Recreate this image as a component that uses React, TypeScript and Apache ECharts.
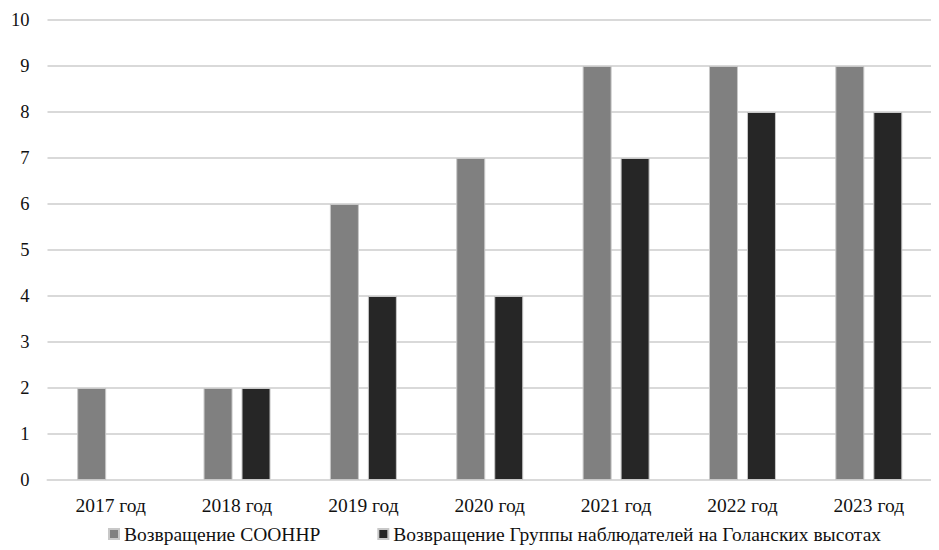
import React, { useEffect, useRef } from "react";
import * as echarts from "echarts";

const categories = ["2017 год", "2018 год", "2019 год", "2020 год", "2021 год", "2022 год", "2023 год"];
const seriesNames = ["Возвращение СООННР", "Возвращение Группы наблюдателей на Голанских высотах"];
const undofValues = [2, 2, 6, 7, 9, 9, 9];
const observerValues = [null, 2, 4, 4, 7, 8, 8];
const colors = ["#808080", "#262626"];

export default function App() {
  const ref = useRef<HTMLDivElement>(null);
  useEffect(() => {
    if (!ref.current) return;
    const chart = echarts.init(ref.current, null, { renderer: "svg" });
    const font = "Liberation Serif";
    chart.setOption({
      animation: false,
      textStyle: { fontFamily: font },
      grid: { left: 39, right: 7, top: 12, bottom: 70 },
      legend: {
        bottom: 1,
        left: 95,
        itemWidth: 10,
        itemHeight: 10,
        itemGap: 57,
        itemTextGap: 4,
        icon: "rect",
        textStyle: { fontFamily: font, fontSize: 19.5, color: "#111" },
        data: seriesNames,
      },
      xAxis: {
        type: "category",
        data: categories,
        axisLine: { show: true, lineStyle: { color: "#d9d9d9", width: 2 } },
        axisTick: { show: false },
        axisLabel: { fontFamily: font, fontSize: 19.5, color: "#111", margin: 15 },
      },
      yAxis: {
        type: "value",
        min: 0,
        max: 10,
        interval: 1,
        axisLine: { show: false },
        axisTick: { show: false },
        splitLine: { lineStyle: { color: "#d9d9d9", width: 2 } },
        axisLabel: { fontFamily: font, fontSize: 18.5, color: "#111", margin: 18 },
      },
      series: [
        {
          name: seriesNames[0],
          type: "bar",
          data: undofValues,
          barWidth: 29,
          barGap: "31%",
          itemStyle: { color: colors[0], borderColor: "#c8c8c8", borderWidth: 1 },
        },
        {
          name: seriesNames[1],
          type: "bar",
          data: observerValues,
          barWidth: 29,
          itemStyle: { color: colors[1], borderColor: "#c8c8c8", borderWidth: 1 },
        },
      ],
    });
    return () => chart.dispose();
  }, []);
  return <div ref={ref} style={{ width: 931, height: 542 }} />;
}
